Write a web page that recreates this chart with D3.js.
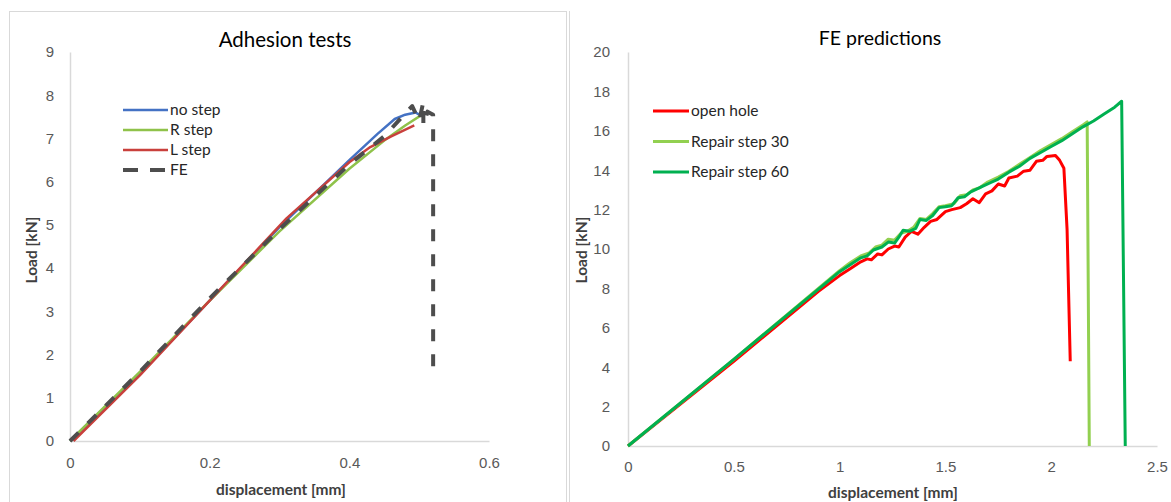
<!DOCTYPE html>
<html>
<head>
<meta charset="utf-8">
<script src="https://cdn.jsdelivr.net/npm/d3@7"></script>
<style>
  body { margin: 0; background: #fff; }
  svg { font-family: Lato, "Open Sans", sans-serif; }
  .tick text { fill: #595959; font-size: 15px; }
</style>
</head>
<body>
<svg width="1171" height="502"></svg>
<script>
// left chart: adhesion tests
const leftXTicks = [0, 0.2, 0.4, 0.6];
const leftYTicks = [0, 1, 2, 3, 4, 5, 6, 7, 8, 9];
const leftNames = ['no step', 'R step', 'L step', 'FE'];
const noStep = [[0,0],[0.1,1.55],[0.2,3.25],[0.3,4.95],[0.4,6.5],[0.44,7.1],[0.465,7.45],[0.48,7.55],[0.495,7.6],[0.5,7.55]];
const rStep = [[0,0],[0.1,1.6],[0.2,3.25],[0.3,4.85],[0.4,6.3],[0.45,6.95],[0.48,7.3],[0.507,7.58]];
const lStep = [[0.005,0],[0.1,1.52],[0.2,3.25],[0.31,5.15],[0.4,6.45],[0.43,6.8],[0.46,7.05],[0.493,7.3]];
const feLeft = [[0,0],[0.05,0.8],[0.1,1.6],[0.2,3.3],[0.3,4.9],[0.4,6.4],[0.45,7.05],[0.49,7.75],[0.5,7.4],[0.506,7.85],[0.506,7.3],[0.512,7.62],[0.52,7.55],[0.52,1.65]];

// right chart: FE predictions
const rightXTicks = [0, 0.5, 1, 1.5, 2, 2.5];
const rightYTicks = [0, 2, 4, 6, 8, 10, 12, 14, 16, 18, 20];
const rightNames = ['open hole', 'Repair step 30', 'Repair step 60'];
const openHole = [[0,0],[0.5,4.3],[0.9,7.85],[1.0,8.65],[1.05,9.0],[1.1,9.35],[1.13,9.5],[1.15,9.45],[1.18,9.75],[1.2,9.7],[1.23,10.0],[1.26,10.15],[1.28,10.1],[1.31,10.6],[1.34,10.9],[1.37,10.75],[1.4,11.1],[1.43,11.4],[1.46,11.5],[1.5,11.9],[1.53,12.0],[1.57,12.1],[1.6,12.3],[1.63,12.55],[1.66,12.35],[1.69,12.8],[1.72,12.95],[1.75,13.3],[1.78,13.2],[1.8,13.6],[1.84,13.7],[1.87,13.95],[1.9,14.0],[1.93,14.45],[1.96,14.5],[1.98,14.7],[2.02,14.75],[2.04,14.5],[2.06,14.1],[2.075,11.0],[2.09,4.3]];
const repair30 = [[0,0],[0.5,4.4],[1.0,8.9],[1.05,9.3],[1.1,9.65],[1.14,9.8],[1.17,10.1],[1.2,10.2],[1.23,10.5],[1.26,10.45],[1.29,10.8],[1.32,10.9],[1.35,11.1],[1.38,11.55],[1.41,11.5],[1.44,11.8],[1.47,12.15],[1.5,12.2],[1.54,12.3],[1.57,12.7],[1.6,12.75],[1.63,13.0],[1.66,13.1],[1.7,13.4],[1.75,13.65],[1.8,13.95],[1.85,14.3],[1.9,14.65],[1.95,15.0],[2.0,15.3],[2.05,15.6],[2.1,15.95],[2.15,16.3],[2.17,16.45],[2.18,0]];
const repair60 = [[0,0],[0.5,4.4],[1.0,8.85],[1.05,9.2],[1.1,9.55],[1.13,9.65],[1.16,9.95],[1.2,10.1],[1.23,10.35],[1.26,10.3],[1.28,10.6],[1.3,10.95],[1.33,10.9],[1.36,11.05],[1.38,11.5],[1.41,11.45],[1.44,11.7],[1.47,12.1],[1.5,12.15],[1.53,12.2],[1.56,12.6],[1.59,12.65],[1.62,12.9],[1.65,13.05],[1.68,13.2],[1.71,13.35],[1.75,13.55],[1.8,13.9],[1.85,14.2],[1.9,14.6],[1.95,14.9],[2.0,15.2],[2.05,15.5],[2.1,15.85],[2.15,16.2],[2.2,16.5],[2.25,16.85],[2.3,17.2],[2.333,17.5],[2.35,0]];

const svg = d3.select('svg');

// chart frames
svg.append('rect')
  .attr('x', 9.5).attr('y', 11.5)
  .attr('width', 557).attr('height', 495)
  .attr('fill', 'none').attr('stroke', '#d9d9d9');
svg.append('line')
  .attr('x1', 569.5).attr('x2', 569.5).attr('y1', 11).attr('y2', 502)
  .attr('stroke', '#d9d9d9');

function drawChart(opts) {
  const x = d3.scaleLinear().domain(opts.xDomain).range(opts.xRange);
  const y = d3.scaleLinear().domain(opts.yDomain).range(opts.yRange);
  const g = svg.append('g');

  const xAxis = g.append('g')
    .attr('transform', `translate(0, ${opts.yRange[0]})`)
    .call(d3.axisBottom(x).tickValues(opts.xTicks).tickSize(0).tickPadding(opts.xPad).tickFormat(d => d));
  xAxis.select('.domain').attr('stroke', '#d9d9d9').attr('stroke-width', 1.5);

  const yAxis = g.append('g')
    .attr('transform', `translate(${opts.xRange[0]}, 0)`)
    .call(d3.axisLeft(y).tickValues(opts.yTicks).tickSize(0).tickPadding(opts.yPad));
  yAxis.select('.domain').attr('stroke', '#d9d9d9').attr('stroke-width', 1.5);

  const line = d3.line().x(d => x(d[0])).y(d => y(d[1]));
  opts.series.forEach(s => {
    g.append('path')
      .datum(s.data)
      .attr('d', line)
      .attr('fill', 'none')
      .attr('stroke', s.color)
      .attr('stroke-width', s.width)
      .attr('stroke-dasharray', s.dash || null)
      .attr('stroke-linejoin', 'round');
  });

  g.append('text')
    .attr('x', opts.title[1]).attr('y', opts.title[2])
    .attr('text-anchor', 'middle')
    .attr('font-size', opts.title[3]).attr('fill', '#000')
    .text(opts.title[0]);

  g.append('text')
    .attr('x', opts.xLabelPos[0]).attr('y', opts.xLabelPos[1])
    .attr('text-anchor', 'middle')
    .attr('font-size', 15.5).attr('font-weight', 'bold').attr('fill', '#404040')
    .text('displacement [mm]');

  g.append('text')
    .attr('transform', `translate(${opts.yLabelPos[0]}, ${opts.yLabelPos[1]}) rotate(-90)`)
    .attr('text-anchor', 'middle')
    .attr('font-size', 15.5).attr('font-weight', 'bold').attr('fill', '#404040')
    .text('Load [kN]');

  const legend = g.append('g');
  opts.series.forEach((s, i) => {
    const ly = opts.legend.y + i * opts.legend.step;
    legend.append('line')
      .attr('x1', opts.legend.x).attr('x2', opts.legend.x + opts.legend.len)
      .attr('y1', ly).attr('y2', ly)
      .attr('stroke', s.color).attr('stroke-width', s.width)
      .attr('stroke-dasharray', s.dash ? '15,12' : null);
    legend.append('text')
      .attr('x', opts.legend.x + opts.legend.len + 2).attr('y', ly)
      .attr('dy', '0.35em')
      .attr('font-size', 15.5).attr('fill', '#262626')
      .text(s.name);
  });
}

drawChart({
  xDomain: [0, 0.6], xRange: [70, 489],
  yDomain: [0, 9], yRange: [441, 52],
  xTicks: leftXTicks, yTicks: leftYTicks,
  xPad: 16, yPad: 16,
  title: ['Adhesion tests', 285, 47, 20.5],
  xLabelPos: [281, 495],
  yLabelPos: [37, 250],
  legend: { x: 123, y: 110, step: 20, len: 45 },
  series: [
    { name: leftNames[0], data: noStep, color: '#4472c4', width: 2.5 },
    { name: leftNames[1], data: rStep, color: '#8fc24a', width: 2.5 },
    { name: leftNames[2], data: lStep, color: '#c9403c', width: 2.5 },
    { name: leftNames[3], data: feLeft, color: '#4d4d4d', width: 4, dash: '12,13' }
  ]
});

drawChart({
  xDomain: [0, 2.5], xRange: [628, 1157],
  yDomain: [0, 20], yRange: [446, 52],
  xTicks: rightXTicks, yTicks: rightYTicks,
  xPad: 15, yPad: 18,
  title: ['FE predictions', 880, 45, 19.5],
  xLabelPos: [893, 498],
  yLabelPos: [587, 250],
  legend: { x: 653, y: 111, step: 30.5, len: 36 },
  series: [
    { name: rightNames[0], data: openHole, color: '#ff0000', width: 3 },
    { name: rightNames[1], data: repair30, color: '#92d050', width: 3 },
    { name: rightNames[2], data: repair60, color: '#00b050', width: 3 }
  ]
});
</script>
</body>
</html>
